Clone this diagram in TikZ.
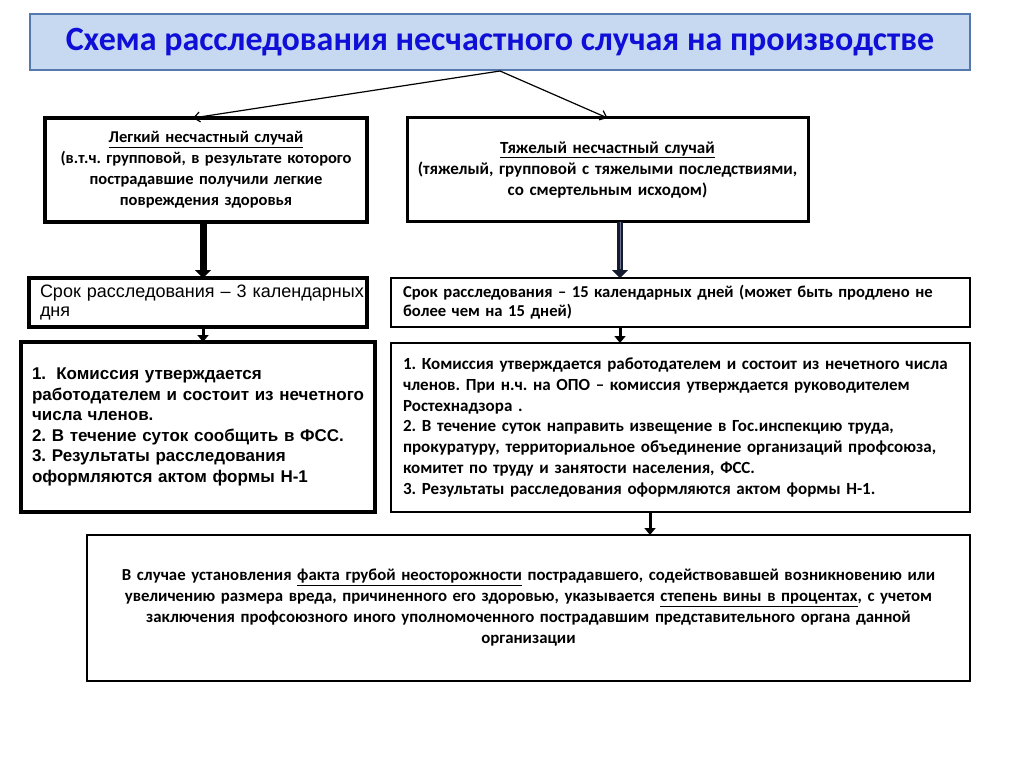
\documentclass[tikz,border=0pt]{standalone}
\usepackage{fontspec}
\setmainfont{Carlito}
\newfontfamily\arialf{Liberation Sans}
\usetikzlibrary{arrows.meta,calc}
\definecolor{titlefill}{RGB}{198,217,241}
\definecolor{titleborder}{RGB}{85,120,175}
\definecolor{titletext}{RGB}{15,15,215}
\definecolor{navy}{RGB}{22,28,48}
\definecolor{navyin}{RGB}{110,120,150}
\frenchspacing
\begin{document}
\begin{tikzpicture}[x=1pt,y=-1pt,
  box/.style={draw=black, fill=white, inner sep=0pt, outer sep=0pt, line width=3pt},
  thinarrow/.style={line width=1.2pt, -{Straight Barb[length=6pt,width=10pt]}},
  fatarrow/.style={line width=7pt, -{Triangle[length=8pt,width=16pt]}},
  smallarrow/.style={line width=3pt, -{Triangle[length=7pt,width=11pt]}},
  calfont/.style={font=\fontsize{17}{20.7}\selectfont\bfseries}]
\fill[white] (0,0) rectangle (1024,767);
\useasboundingbox (0,0) rectangle (1024,767);
% title
\node[draw=titleborder, line width=2pt, fill=titlefill, minimum width=940pt, minimum height=56pt,
  inner sep=0pt, font=\fontsize{34}{36}\selectfont\bfseries, text=titletext] (title) at (500,42)
  {Схема расследования несчастного случая на производстве};
% level 1
\node[box, line width=3.5pt, minimum width=322pt, minimum height=104pt, text width=312pt, align=center,
  font=\fontsize{16.5}{21}\selectfont\bfseries] (light) at (206,170)
  {\underline{Легкий несчастный случай}\\(в.т.ч. групповой, в результате которого\\пострадавшие получили легкие\\повреждения здоровья};
\node[box, line width=3pt, minimum width=401pt, minimum height=104pt, text width=390pt, align=center,
  font=\fontsize{17}{21}\selectfont\bfseries] (heavy) at (607.5,170)
  {\underline{Тяжелый несчастный случай}\\(тяжелый, групповой с тяжелыми последствиями,\\со смертельным исходом)};
% level 2
\node[box, line width=4.5pt, minimum width=338pt, minimum height=49pt, text width=316pt, align=left,
  font=\arialf\fontsize{18}{19}\selectfont] (srokL) at (198,302.5)
  {\mbox{Срок расследования – 3 календарных}\\дня};
\node[box, line width=2.8pt, minimum width=579pt, minimum height=49pt, text width=555pt, align=left,
  font=\fontsize{16.6}{19}\selectfont\bfseries] (srokR) at (680.5,302.5)
  {Срок расследования – 15 календарных дней (может быть продлено не\\более чем на 15 дней)};
% level 3
\node[box, line width=4.5pt, minimum width=354pt, minimum height=170pt, text width=332pt, align=left,
  font=\arialf\fontsize{17}{20.6}\selectfont\bfseries] (listL) at (198,427)
  {1.\hspace{0.6em}Комиссия утверждается\\работодателем и состоит из нечетного\\числа членов.\\2. В течение суток сообщить в ФСС.\\3. Результаты расследования\\оформляются актом формы Н-1};
\node[box, line width=2.8pt, minimum width=579pt, minimum height=169pt, text width=555pt, align=left,
  calfont] (listR) at (680.5,427.5)
  {1. Комиссия утверждается работодателем и состоит из нечетного числа\\членов. При н.ч. на ОПО – комиссия утверждается руководителем\\Ростехнадзора .\\2. В течение суток направить извещение в Гос.инспекцию труда,\\прокуратуру, территориальное объединение организаций профсоюза,\\комитет по труду и занятости населения, ФСС.\\3. Результаты расследования оформляются актом формы Н-1.};
% bottom
\node[box, line width=2.8pt, minimum width=883pt, minimum height=146pt, text width=860pt, align=center,
  font=\fontsize{16.8}{21}\selectfont\bfseries] (bottom) at (528.5,608)
  {В случае установления \underline{факта грубой неосторожности} пострадавшего, содействовавшей возникновению или\\увеличению размера вреда, причиненного его здоровью, указывается \underline{степень вины в процентах}, с учетом\\заключения профсоюзного иного уполномоченного пострадавшим представительного органа данной\\организации};
% connectors
\draw[thinarrow] (title.south) -- ([xshift=-13pt]light.north);
\draw[thinarrow] (title.south) -- (heavy.north);
\draw[fatarrow, black] ([xshift=-3pt]light.south) -- ([xshift=-3pt]light.south |- srokL.north);
\draw[fatarrow, navy, line width=6pt] ([xshift=12.5pt]heavy.south) -- ([xshift=12.5pt]heavy.south |- srokR.north);
\coordinate (rin) at ($([xshift=12.5pt]heavy.south |- srokR.north)+(0,-9)$);
\draw[navyin, line width=1pt] ([xshift=12.5pt]heavy.south) -- (rin);
\draw[smallarrow] ([xshift=5pt]srokL.south) -- ([xshift=5pt]srokL.south |- listL.north);
\draw[smallarrow] ([xshift=-60.5pt]srokR.south) -- ([xshift=-60.5pt]srokR.south |- listR.north);
\draw[smallarrow] ([xshift=-30.5pt]listR.south) -- ([xshift=-30.5pt]listR.south |- bottom.north);
\end{tikzpicture}
\end{document}
